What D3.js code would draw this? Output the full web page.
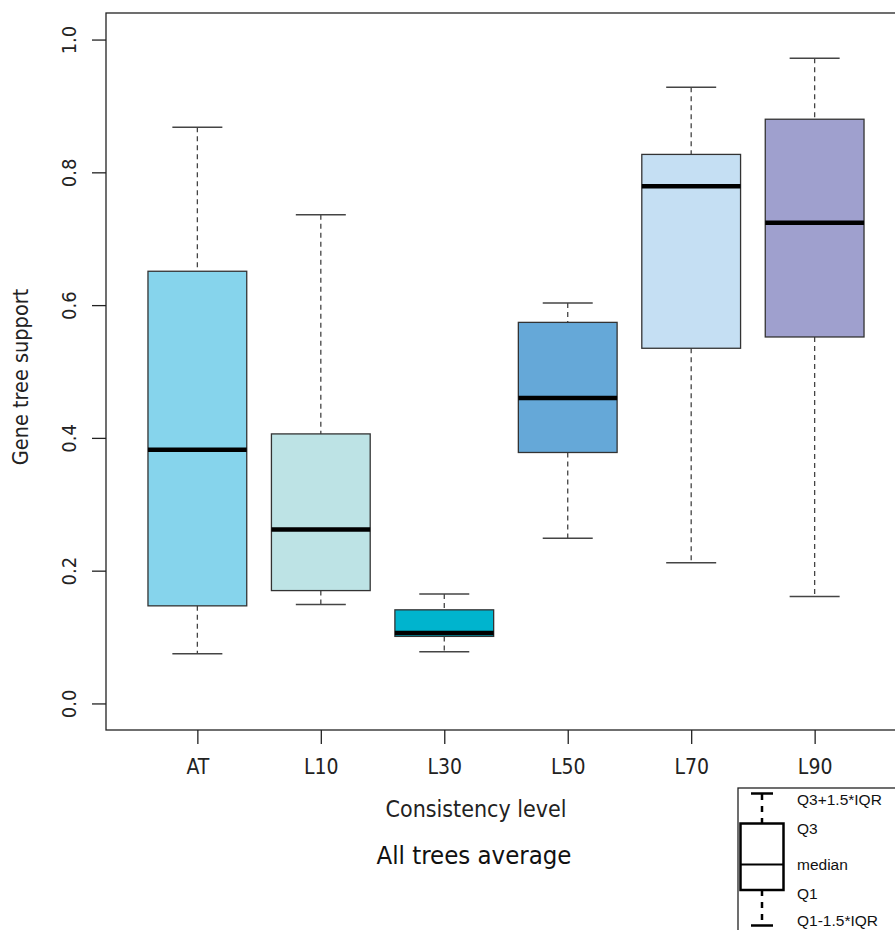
<!DOCTYPE html>
<html><head><meta charset="utf-8">
<script src="https://cdn.jsdelivr.net/npm/d3@7"></script>
<style>body{margin:0;background:#fff} svg{display:block}</style>
</head><body><svg id="chart" width="895" height="930"></svg>
<script>
// ---- data ----
const categories = ["AT", "L10", "L30", "L50", "L70", "L90"];
const lowerWhisker = [0.075, 0.149, 0.078, 0.249, 0.212, 0.161];
const q1Values = [0.147, 0.170, 0.101, 0.378, 0.535, 0.552];
const medianValues = [0.382, 0.262, 0.106, 0.460, 0.779, 0.724];
const q3Values = [0.651, 0.406, 0.141, 0.574, 0.827, 0.880];
const upperWhisker = [0.868, 0.736, 0.165, 0.603, 0.928, 0.972];
const fillColors = ["#86d4ec", "#bde3e5", "#00b4ce", "#65a8d8", "#c5dff3", "#9fa0ce"];
const yTicks = [0.0, 0.2, 0.4, 0.6, 0.8, 1.0];
const legendLabels = ["Q3+1.5*IQR", "Q3", "median", "Q1", "Q1-1.5*IQR"];

const FONT = "'Liberation Sans Narrow','DejaVu Sans Condensed',sans-serif";
const svg = d3.select("#chart");
svg.append("rect").attr("width", 895).attr("height", 930).attr("fill", "#fff");

const x = d3.scaleLinear().domain([0.26, 6.74]).range([106, 906]);
const y = d3.scaleLinear().domain([-0.04, 1.04]).range([730, 13]);
const boxHalf = x(1.4) - x(1);
const capHalf = x(1.2025) - x(1);

const data = categories.map((c, i) => ({
  c, i: i + 1, lo: lowerWhisker[i], q1: q1Values[i], med: medianValues[i],
  q3: q3Values[i], hi: upperWhisker[i], fill: fillColors[i]
}));

const g = svg.append("g");
const box = g.selectAll("g.box").data(data).join("g").attr("class", "box");
// whiskers
box.append("line").attr("x1", d => x(d.i)).attr("x2", d => x(d.i))
  .attr("y1", d => y(d.hi)).attr("y2", d => y(d.q3))
  .attr("stroke", "#444").attr("stroke-width", 1.3).attr("stroke-dasharray", "5,4");
box.append("line").attr("x1", d => x(d.i)).attr("x2", d => x(d.i))
  .attr("y1", d => y(d.q1)).attr("y2", d => y(d.lo))
  .attr("stroke", "#444").attr("stroke-width", 1.3).attr("stroke-dasharray", "5,4");
// caps
["hi", "lo"].forEach(k => {
  box.append("line").attr("x1", d => x(d.i) - capHalf).attr("x2", d => x(d.i) + capHalf)
    .attr("y1", d => y(d[k])).attr("y2", d => y(d[k]))
    .attr("stroke", "#444").attr("stroke-width", 1.5);
});
// boxes
box.append("rect").attr("x", d => x(d.i) - boxHalf).attr("width", 2 * boxHalf)
  .attr("y", d => y(d.q3)).attr("height", d => y(d.q1) - y(d.q3))
  .attr("fill", d => d.fill).attr("stroke", "#333").attr("stroke-width", 1.3);
// medians
box.append("line").attr("x1", d => x(d.i) - boxHalf).attr("x2", d => x(d.i) + boxHalf)
  .attr("y1", d => y(d.med)).attr("y2", d => y(d.med))
  .attr("stroke", "#000").attr("stroke-width", 4.5);

// frame
svg.append("rect").attr("x", 106).attr("y", 13).attr("width", 800).attr("height", 717)
  .attr("fill", "none").attr("stroke", "#222").attr("stroke-width", 1.3);

// y axis
const yAxis = svg.append("g").attr("transform", "translate(106,0)")
  .call(d3.axisLeft(y).tickValues(yTicks).tickSize(14).tickFormat(d3.format(".1f")));
yAxis.select(".domain").remove();
yAxis.selectAll(".tick line").attr("stroke", "#222").attr("stroke-width", 1.3);
yAxis.selectAll(".tick text")
  .attr("x", null).attr("dy", null).attr("y", 0)
  .attr("transform", "translate(-30,0) rotate(-90)")
  .attr("text-anchor", "middle")
  .style("font-family", FONT).style("font-size", "20px").attr("fill", "#222");

// x axis
const xAxis = svg.append("g").attr("transform", "translate(0,730)")
  .call(d3.axisBottom(x).tickValues(d3.range(1, categories.length + 1)).tickSize(14)
    .tickFormat(d => categories[d - 1]));
xAxis.select(".domain").remove();
xAxis.selectAll(".tick line").attr("stroke", "#222").attr("stroke-width", 1.3);
xAxis.selectAll(".tick text").attr("y", 44).attr("dy", null)
  .style("font-family", FONT).style("font-size", "21px").attr("fill", "#222");

// titles
svg.append("text").attr("transform", "translate(28,377) rotate(-90)")
  .attr("text-anchor", "middle").style("font-family", FONT).style("font-size", "21.5px")
  .attr("fill", "#222").text("Gene tree support");
svg.append("text").attr("x", 476).attr("y", 817).attr("text-anchor", "middle")
  .style("font-family", FONT).style("font-size", "23px").attr("fill", "#222")
  .text("Consistency level");
svg.append("text").attr("x", 474).attr("y", 864).attr("text-anchor", "middle")
  .style("font-family", FONT).style("font-size", "25.5px").attr("fill", "#111")
  .text("All trees average");

// legend
const lg = svg.append("g");
lg.append("rect").attr("x", 738).attr("y", 788).attr("width", 200).attr("height", 200)
  .attr("fill", "#fff").attr("stroke", "#222").attr("stroke-width", 1.3);
const lx = 762;
lg.append("line").attr("x1", lx).attr("x2", lx).attr("y1", 794).attr("y2", 823)
  .attr("stroke", "#000").attr("stroke-width", 2.5).attr("stroke-dasharray", "6,6");
lg.append("line").attr("x1", lx).attr("x2", lx).attr("y1", 890).attr("y2", 925)
  .attr("stroke", "#000").attr("stroke-width", 2.5).attr("stroke-dasharray", "6,6");
[793.5, 925.5].forEach(yy => lg.append("line").attr("x1", 751).attr("x2", 773)
  .attr("y1", yy).attr("y2", yy).attr("stroke", "#000").attr("stroke-width", 2.5));
lg.append("rect").attr("x", 740.5).attr("y", 823.5).attr("width", 43).attr("height", 66.5)
  .attr("fill", "none").attr("stroke", "#000").attr("stroke-width", 2.5);
lg.append("line").attr("x1", 740.5).attr("x2", 783.5).attr("y1", 864.5).attr("y2", 864.5)
  .attr("stroke", "#000").attr("stroke-width", 2.2);
const legendY = [805, 834, 870, 899, 926];
lg.selectAll("text.lab").data(legendLabels).join("text").attr("class", "lab")
  .attr("x", 797).attr("y", (d, i) => legendY[i])
  .style("font-family", "'Liberation Sans',Arial,sans-serif").style("font-size", "15.5px")
  .attr("fill", "#111").text(d => d);
</script></body></html>
